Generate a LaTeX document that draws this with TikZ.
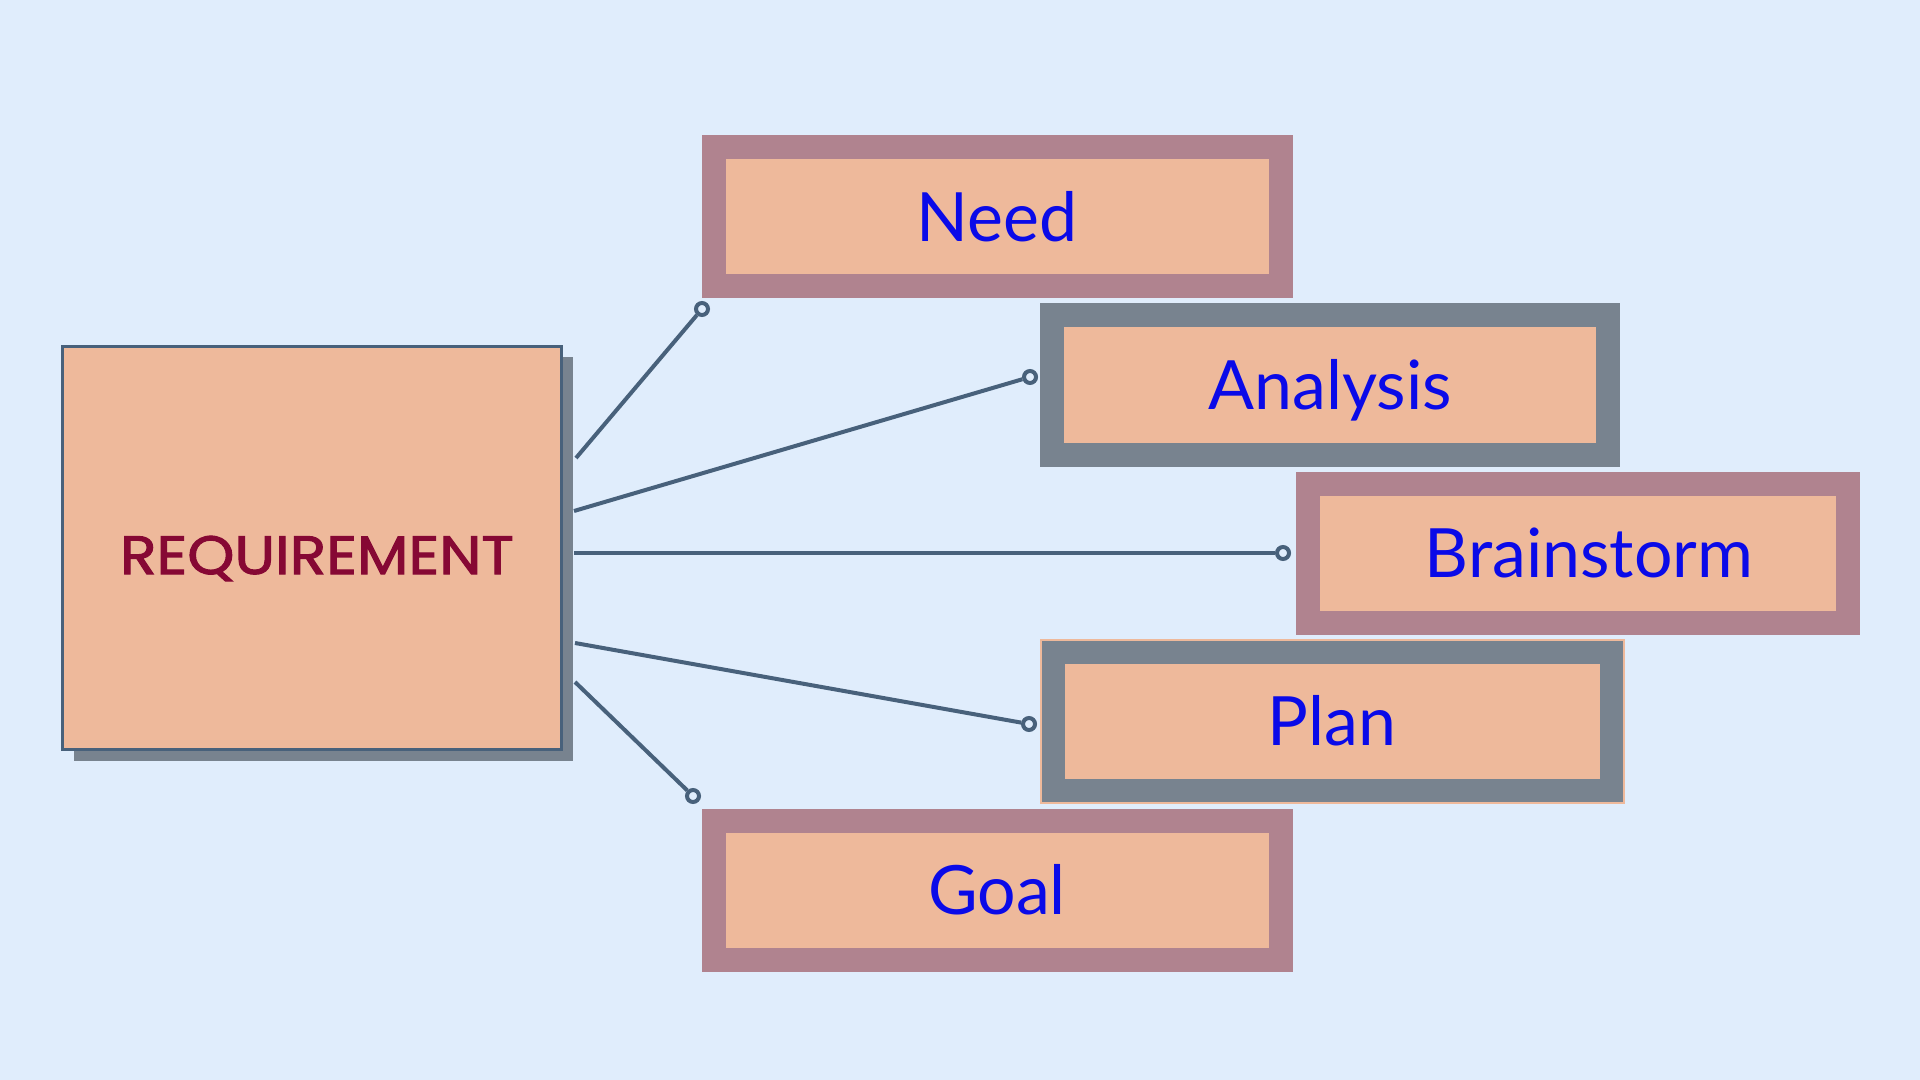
\documentclass[tikz,border=0pt]{standalone}
\usepackage{fontspec}
\setmainfont{Lato}
\newfontfamily\reqfont{Poppins}[FakeBold=2, FakeStretch=1.11]
\usepackage{tikz}
\usetikzlibrary{shadows}

\definecolor{pagebg}{HTML}{E0EDFC}
\definecolor{peach}{HTML}{EEB99B}
\definecolor{mauve}{HTML}{B0838F}
\definecolor{slate}{HTML}{78838F}
\definecolor{linkblue}{HTML}{48617B}
\definecolor{wine}{HTML}{860834}
\definecolor{labelblue}{HTML}{0A0AE8}

\begin{document}
\begin{tikzpicture}[x=0.5pt, y=-0.5pt, every node/.style={inner sep=0pt},
  stepbox/.style={fill=peach, line width=12pt, minimum height=69.5pt, text=labelblue,
    font=\fontsize{34}{40}\selectfont, text height=24.5pt, text depth=0pt},
  dot/.style={circle, draw=linkblue, fill=pagebg, line width=2pt, minimum size=6pt},
  link/.style={draw=linkblue, line width=2pt}]
\fill[pagebg] (0,0) rectangle (1920,1080);
\useasboundingbox (0,0) rectangle (1920,1080);

\node[draw=linkblue, line width=1.8pt, fill=peach, minimum width=249.5pt, minimum height=201.5pt,
  drop shadow={shadow xshift=5.5pt, shadow yshift=-5.5pt, fill=slate, opacity=1},
  font=\reqfont\fontsize{27}{32}\selectfont, text=wine, text height=26pt, text depth=0pt] (req) at (312,548) {\hspace*{5pt}REQUIREMENT};

\node[stepbox, draw=mauve, minimum width=283.5pt] (need) at (997,217) {Need};
\node[stepbox, draw=slate, minimum width=278pt] (ana) at (1330,385) {Analysis};
\node[stepbox, draw=mauve, minimum width=270pt] (brain) at (1578,553) {\hspace*{11pt}Brainstorm};
\node[stepbox, draw=slate, minimum width=279.5pt] (plan) at (1332,721) {Plan};
\node[stepbox, draw=mauve, minimum width=283.5pt] (goal) at (997,890) {Goal};
\draw[peach, line width=1pt] (plan.south west) rectangle (plan.north east);

% open ends in front of the boxes
\node[dot] (dneed) at (702,309) {};
\node[dot] (dana) at (1030,377) {};
\node[dot] (dbrain) at (1283,553) {};
\node[dot] (dplan) at (1029,724) {};
\node[dot] (dgoal) at (693,796) {};

% starts along the right side of the requirement box
\coordinate (sneed) at (576,458);
\coordinate (sana) at (574,511);
\coordinate (sbrain) at (574,553);
\coordinate (splan) at (575,643);
\coordinate (sgoal) at (575,682);

\draw[link] (sneed) -- (dneed);
\draw[link] (sana) -- (dana);
\draw[link] (sbrain) -- (dbrain);
\draw[link] (splan) -- (dplan);
\draw[link] (sgoal) -- (dgoal);
\end{tikzpicture}
\end{document}
